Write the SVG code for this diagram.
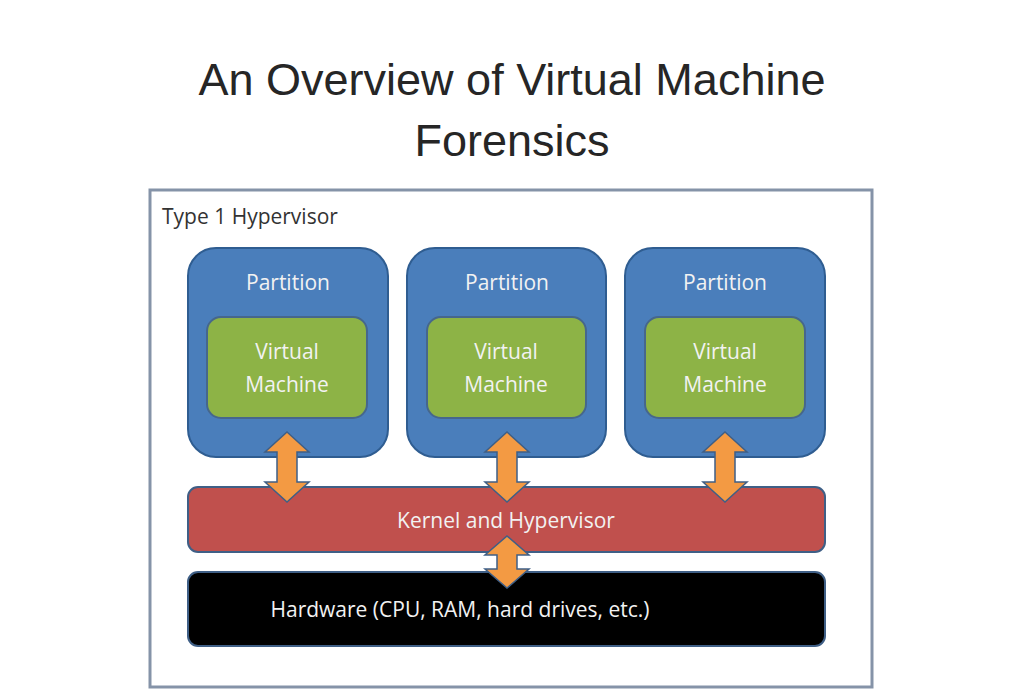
<svg xmlns="http://www.w3.org/2000/svg" width="1024" height="699" viewBox="0 0 1024 699">
<style>
.t{font-family:"Liberation Sans",Arial,sans-serif;fill:#262626;font-size:45px;text-anchor:middle}
.l{font-family:"Open Sans","DejaVu Sans",sans-serif;text-anchor:middle;font-size:21px;fill:#f2f2f2}
.p{fill:#4a7ebb;stroke:#2f5d91;stroke-width:2}
.v{fill:#8db346;stroke:#46678c;stroke-width:2}
.a{fill:#f39a43;stroke:#3f5f86;stroke-width:1.5}
</style>
<rect width="1024" height="699" fill="#fff"/>
<text class="t" x="512" y="95">An Overview of Virtual Machine</text>
<text class="t" x="512" y="156">Forensics</text>
<g id="frame"><rect x="150" y="190" width="722" height="497" fill="#fff" stroke="#8593a8" stroke-width="3"/>
<text x="162" y="224" font-family="'Open Sans','DejaVu Sans',sans-serif" font-size="21" fill="#333">Type 1 Hypervisor</text></g>
<g id="p1"><rect class="p" x="188" y="248" width="200" height="209" rx="28"/><text class="l" x="288" y="290">Partition</text></g>
<g id="p2"><rect class="p" x="407" y="248" width="199" height="209" rx="28"/><text class="l" x="507" y="290">Partition</text></g>
<g id="p3"><rect class="p" x="625" y="248" width="200" height="209" rx="28"/><text class="l" x="725" y="290">Partition</text></g>
<g id="vm1"><rect class="v" x="207" y="317" width="160" height="101" rx="14"/><text class="l" x="287" y="359">Virtual</text><text class="l" x="287" y="392">Machine</text></g>
<g id="vm2"><rect class="v" x="427" y="317" width="159" height="101" rx="14"/><text class="l" x="506" y="359">Virtual</text><text class="l" x="506" y="392">Machine</text></g>
<g id="vm3"><rect class="v" x="645" y="317" width="160" height="101" rx="14"/><text class="l" x="725" y="359">Virtual</text><text class="l" x="725" y="392">Machine</text></g>
<g id="kernel"><rect x="188" y="487" width="637" height="65" rx="10" fill="#c0504d" stroke="#3f5f86" stroke-width="2"/><text class="l" x="506" y="528">Kernel and Hypervisor</text></g>
<g id="hardware"><rect x="188" y="572" width="637" height="74" rx="10" fill="#000" stroke="#3f5f86" stroke-width="2"/><text class="l" x="460" y="617">Hardware (CPU, RAM, hard drives, etc.)</text></g>
<g id="connectors">
<polygon class="a" points="287,432 309,452 297,452 297,482 309,482 287,502 265,482 277,482 277,452 265,452"/>
<polygon class="a" points="507,432 529,452 517,452 517,482 529,482 507,502 485,482 497,482 497,452 485,452"/>
<polygon class="a" points="725,432 747,452 735,452 735,482 747,482 725,502 703,482 715,482 715,452 703,452"/>
<polygon class="a" points="507,536 529,555 517,555 517,569 529,569 507,588 485,569 497,569 497,555 485,555"/>
</g>
</svg>
